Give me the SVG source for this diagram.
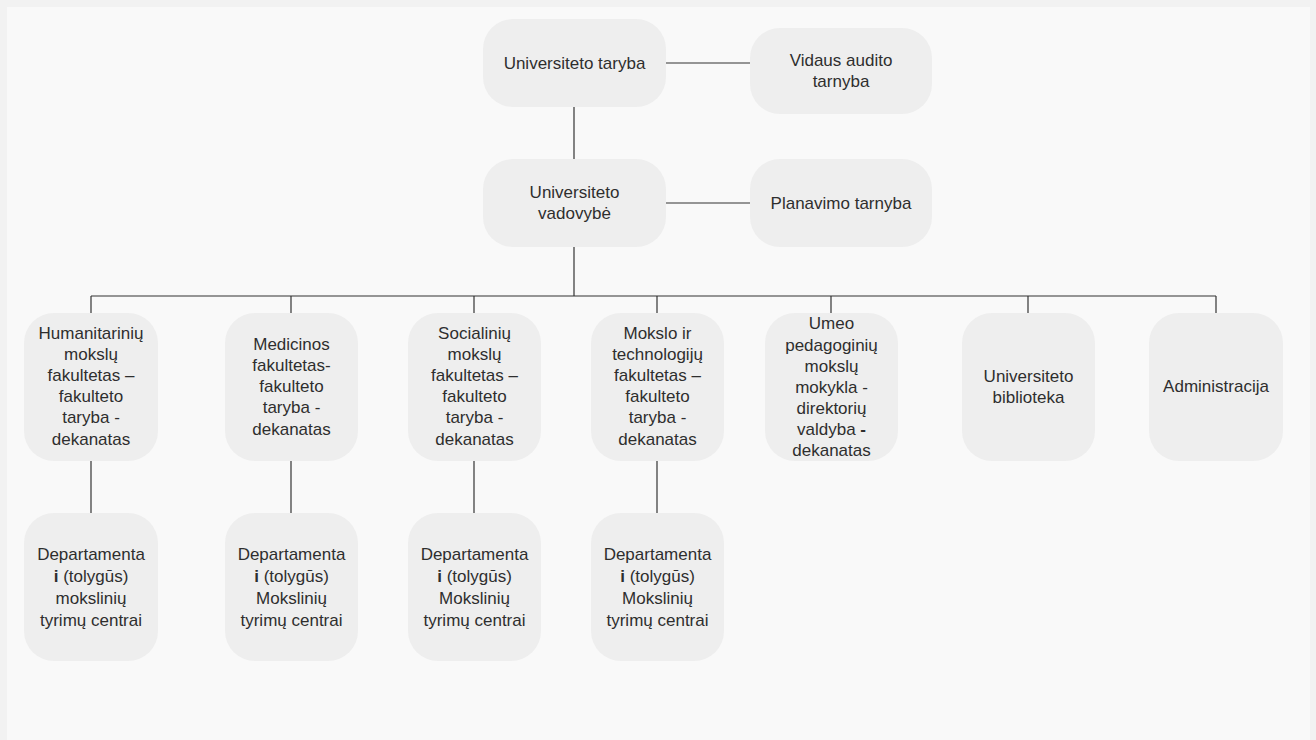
<svg xmlns="http://www.w3.org/2000/svg" width="1316" height="740" viewBox="0 0 1316 740">
  <style>
    .node rect { fill: #eeeeee; }
    .node text { font-family: "Liberation Sans", Arial, sans-serif; font-size: 17px; fill: #2e2e2e; text-anchor: middle; dominant-baseline: central; }
    .b { font-weight: bold; }
    #connectors line, #connectors polyline { stroke: #333333; stroke-width: 1.2; fill: none; }
  </style>

  <!-- page background and panel -->
  <rect x="0" y="0" width="1316" height="740" fill="#f2f2f2"/>
  <rect x="7" y="7" width="1303" height="733" fill="#f9f9f9"/>

  <g id="connectors">
    <line x1="666" y1="63" x2="750" y2="63"/>
    <line x1="666" y1="203" x2="750" y2="203"/>
    <line x1="574" y1="107" x2="574" y2="159"/>
    <line x1="574" y1="247" x2="574" y2="296"/>
    <line x1="91" y1="296" x2="1216" y2="296"/>
    <line x1="91" y1="296" x2="91" y2="313"/>
    <line x1="291" y1="296" x2="291" y2="313"/>
    <line x1="474" y1="296" x2="474" y2="313"/>
    <line x1="657" y1="296" x2="657" y2="313"/>
    <line x1="831" y1="296" x2="831" y2="313"/>
    <line x1="1028" y1="296" x2="1028" y2="313"/>
    <line x1="1216" y1="296" x2="1216" y2="313"/>
    <line x1="91" y1="461" x2="91" y2="513"/>
    <line x1="291" y1="461" x2="291" y2="513"/>
    <line x1="474" y1="461" x2="474" y2="513"/>
    <line x1="657" y1="461" x2="657" y2="513"/>
  </g>

  <g id="universiteto-taryba" class="node">
    <rect x="483" y="19" width="183" height="88" rx="30"/>
    <text x="574.5" y="63">Universiteto taryba</text>
  </g>
  <g id="vidaus-audito-tarnyba" class="node">
    <rect x="750" y="28" width="182" height="86" rx="30"/>
    <text x="841" y="60">Vidaus audito</text>
    <text x="841" y="81">tarnyba</text>
  </g>
  <g id="universiteto-vadovybe" class="node">
    <rect x="483" y="159" width="183" height="88" rx="30"/>
    <text x="574.5" y="192">Universiteto</text>
    <text x="574.5" y="213">vadovybė</text>
  </g>
  <g id="planavimo-tarnyba" class="node">
    <rect x="750" y="159" width="182" height="88" rx="30"/>
    <text x="841" y="203">Planavimo tarnyba</text>
  </g>

  <g id="humanitariniu-fakultetas" class="node">
    <rect x="24" y="313" width="134" height="148" rx="30"/>
    <text x="91" y="333">Humanitarinių</text>
    <text x="91" y="354">mokslų</text>
    <text x="91" y="375">fakultetas –</text>
    <text x="91" y="396">fakulteto</text>
    <text x="91" y="417">taryba -</text>
    <text x="91" y="439">dekanatas</text>
  </g>
  <g id="medicinos-fakultetas" class="node">
    <rect x="225" y="313" width="133" height="148" rx="30"/>
    <text x="291.5" y="344">Medicinos</text>
    <text x="291.5" y="365">fakultetas-</text>
    <text x="291.5" y="386">fakulteto</text>
    <text x="291.5" y="407">taryba -</text>
    <text x="291.5" y="429">dekanatas</text>
  </g>
  <g id="socialiniu-fakultetas" class="node">
    <rect x="408" y="313" width="133" height="148" rx="30"/>
    <text x="474.5" y="333">Socialinių</text>
    <text x="474.5" y="354">mokslų</text>
    <text x="474.5" y="375">fakultetas –</text>
    <text x="474.5" y="396">fakulteto</text>
    <text x="474.5" y="417">taryba -</text>
    <text x="474.5" y="439">dekanatas</text>
  </g>
  <g id="mokslo-technologiju-fakultetas" class="node">
    <rect x="591" y="313" width="133" height="148" rx="30"/>
    <text x="657.5" y="333">Mokslo ir</text>
    <text x="657.5" y="354">technologijų</text>
    <text x="657.5" y="375">fakultetas –</text>
    <text x="657.5" y="396">fakulteto</text>
    <text x="657.5" y="417">taryba -</text>
    <text x="657.5" y="439">dekanatas</text>
  </g>
  <g id="umeo-mokykla" class="node">
    <rect x="765" y="313" width="133" height="148" rx="30"/>
    <text x="831.5" y="323">Umeo</text>
    <text x="831.5" y="345">pedagoginių</text>
    <text x="831.5" y="366">mokslų</text>
    <text x="831.5" y="387">mokykla -</text>
    <text x="831.5" y="408">direktorių</text>
    <text x="831.5" y="429">valdyba <tspan class="b">-</tspan></text>
    <text x="831.5" y="450">dekanatas</text>
  </g>
  <g id="universiteto-biblioteka" class="node">
    <rect x="962" y="313" width="133" height="148" rx="30"/>
    <text x="1028.5" y="376">Universiteto</text>
    <text x="1028.5" y="397">biblioteka</text>
  </g>
  <g id="administracija" class="node">
    <rect x="1149" y="313" width="134" height="148" rx="30"/>
    <text x="1216" y="386">Administracija</text>
  </g>

  <g id="humanitariniu-departamentai" class="node">
    <rect x="24" y="513" width="134" height="148" rx="30"/>
    <text x="91" y="554">Departamenta</text>
    <text x="91" y="576"><tspan class="b">i</tspan> (tolygūs)</text>
    <text x="91" y="598">mokslinių</text>
    <text x="91" y="620">tyrimų centrai</text>
  </g>
  <g id="medicinos-departamentai" class="node">
    <rect x="225" y="513" width="133" height="148" rx="30"/>
    <text x="291.5" y="554">Departamenta</text>
    <text x="291.5" y="576"><tspan class="b">i</tspan> (tolygūs)</text>
    <text x="291.5" y="598">Mokslinių</text>
    <text x="291.5" y="620">tyrimų centrai</text>
  </g>
  <g id="socialiniu-departamentai" class="node">
    <rect x="408" y="513" width="133" height="148" rx="30"/>
    <text x="474.5" y="554">Departamenta</text>
    <text x="474.5" y="576"><tspan class="b">i</tspan> (tolygūs)</text>
    <text x="474.5" y="598">Mokslinių</text>
    <text x="474.5" y="620">tyrimų centrai</text>
  </g>
  <g id="mokslo-technologiju-departamentai" class="node">
    <rect x="591" y="513" width="133" height="148" rx="30"/>
    <text x="657.5" y="554">Departamenta</text>
    <text x="657.5" y="576"><tspan class="b">i</tspan> (tolygūs)</text>
    <text x="657.5" y="598">Mokslinių</text>
    <text x="657.5" y="620">tyrimų centrai</text>
  </g>
</svg>
